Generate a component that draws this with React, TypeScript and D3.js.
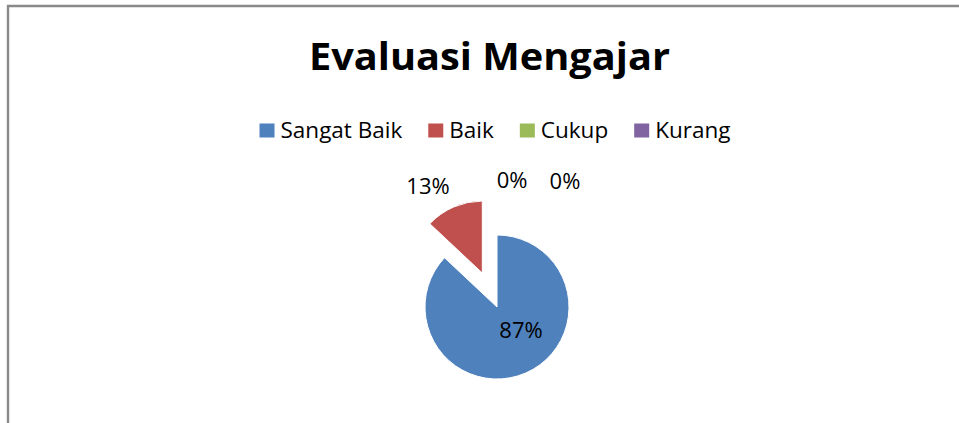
import React, { useEffect, useRef } from "react";
import * as d3 from "d3";

const categories = ["Sangat Baik", "Baik", "Cukup", "Kurang"];
const values = [87, 13, 0, 0];
const labels = ["87%", "13%", "0%", "0%"];
const colors = ["#4F81BD", "#C0504D", "#9BBB59", "#8064A2"];
const titleText = "Evaluasi Mengajar";

const W = 959;
const H = 423;
const cx = 497;
const cy = 307;
const R = 72;
const explode = [0, 37, 0, 0];
// label anchor offsets relative to pie center (text baseline middle)
const labelOffsets: [number, number][] = [
  [24, 31],
  [-69, -113],
  [15, -119],
  [68, -118],
];

export default function App() {
  const ref = useRef<SVGSVGElement>(null);

  useEffect(() => {
    const svg = d3.select(ref.current);
    svg.selectAll("*").remove();

    svg.append("rect").attr("width", W).attr("height", H).attr("fill", "#fff");
    // frame
    svg.append("line").attr("x1", 7).attr("x2", W).attr("y1", 6).attr("y2", 6)
      .attr("stroke", "#898989").attr("stroke-width", 2.4);
    svg.append("line").attr("x1", 8).attr("x2", 8).attr("y1", 5).attr("y2", H)
      .attr("stroke", "#898989").attr("stroke-width", 2.4);

    // title
    svg.append("text")
      .attr("x", 489.5).attr("y", 69.5)
      .attr("text-anchor", "middle")
      .attr("font-family", "'Open Sans', sans-serif")
      .attr("font-weight", 700)
      .attr("font-size", 37)
      .attr("textLength", 361)
      .attr("lengthAdjust", "spacingAndGlyphs")
      .attr("fill", "#000")
      .text(titleText);

    // legend
    const lg = svg.append("g");
    const fs = 22.5;
    let x = 0;
    categories.forEach((c, i) => {
      const g = lg.append("g").attr("transform", `translate(${x},0)`);
      g.append("rect").attr("x", 0).attr("y", 123.5).attr("width", 15).attr("height", 14)
        .attr("fill", colors[i]);
      const t = g.append("text").attr("x", 21).attr("y", 137.5)
        .attr("font-family", "'Open Sans', sans-serif").attr("font-size", fs)
        .attr("fill", "#000").text(c);
      const w = (t.node() as SVGTextElement).getComputedTextLength();
      x += 21 + w + 26;
    });
    const totalW = x - 26;
    lg.attr("transform", `translate(${495 - totalW / 2},0)`);

    // pie
    const pie = d3.pie<number>().sort(null).value((d) => d);
    const arcs = pie(values);
    const arc = d3.arc<d3.PieArcDatum<number>>().innerRadius(0).outerRadius(R);
    const pg = svg.append("g").attr("transform", `translate(${cx},${cy})`);
    arcs.forEach((a, i) => {
      if (a.endAngle - a.startAngle <= 0) return;
      const mid = (a.startAngle + a.endAngle) / 2;
      const dx = Math.sin(mid) * explode[i];
      const dy = -Math.cos(mid) * explode[i];
      pg.append("path")
        .attr("transform", `translate(${dx},${dy})`)
        .attr("d", arc(a) as string)
        .attr("fill", colors[i])
        .attr("stroke", "#fff")
        .attr("stroke-width", 1);
    });

    arcs.forEach((a, i) => {
      pg.append("text")
        .attr("x", labelOffsets[i][0]).attr("y", labelOffsets[i][1])
        .attr("text-anchor", "middle")
        .attr("font-family", "'Open Sans', sans-serif")
        .attr("font-size", 22)
        .attr("fill", "#000")
        .text(labels[i]);
    });
  }, []);

  return (
    <svg ref={ref} width={W} height={H}
      style={{ position: "absolute", left: 0, top: 0, display: "block" }} />
  );
}
